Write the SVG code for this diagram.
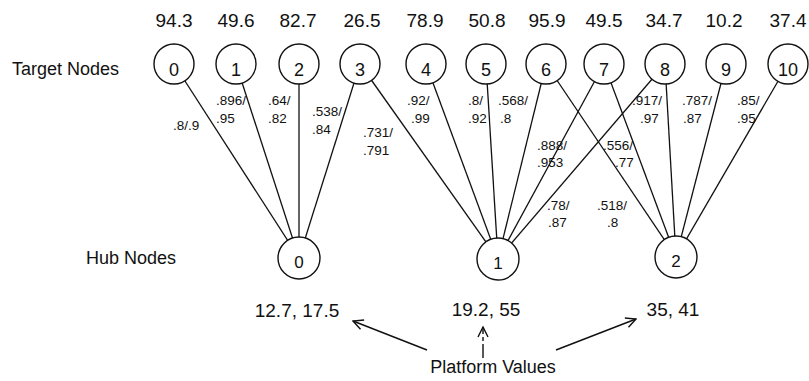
<svg xmlns="http://www.w3.org/2000/svg" width="809" height="381" viewBox="0 0 809 381">
  <defs>
    <style>
      text { font-family: "Liberation Sans", Arial, Helvetica, sans-serif; fill: #111; }
      .node circle { fill: #fff; stroke: #111; stroke-width: 1.4; }
      .node text { font-size: 18px; text-anchor: middle; }
      .hub text { font-size: 17px; }
      .edge line { stroke: #111; stroke-width: 1.3; }
      .weight { font-size: 13.5px; }
      .value { font-size: 19px; text-anchor: middle; }
      .caption { font-size: 18px; }
      .pointer { stroke: #111; stroke-width: 1.4; fill: none; }
    </style>
    <marker id="openHead" viewBox="0 0 12 12" refX="11" refY="6" markerWidth="12" markerHeight="12" markerUnits="userSpaceOnUse" orient="auto">
      <path d="M1,1 L11,6 L1,11" fill="none" stroke="#111" stroke-width="1.4"/>
    </marker>
  </defs>

  <rect width="809" height="381" fill="#fff"/>

  <!-- captions -->
  <text class="caption" x="12" y="75">Target Nodes</text>
  <text class="caption" x="176" y="264" text-anchor="end" font-size="17">Hub Nodes</text>

  <!-- values above target nodes -->
  <g id="target-values">
    <text class="value" x="174" y="27">94.3</text>
    <text class="value" x="236" y="27">49.6</text>
    <text class="value" x="298" y="27">82.7</text>
    <text class="value" x="362" y="27">26.5</text>
    <text class="value" x="425" y="27">78.9</text>
    <text class="value" x="487" y="27">50.8</text>
    <text class="value" x="547" y="27">95.9</text>
    <text class="value" x="604" y="27">49.5</text>
    <text class="value" x="664" y="27">34.7</text>
    <text class="value" x="724" y="27">10.2</text>
    <text class="value" x="788" y="27">37.4</text>
  </g>

  <!-- connectors: target node to hub node, drawn centre to centre under the circles -->
  <g id="connectors" class="edge">
    <line x1="174" y1="64" x2="299" y2="258"/>
    <line x1="236" y1="64" x2="299" y2="258"/>
    <line x1="299" y1="64" x2="299" y2="258"/>
    <line x1="360" y1="64" x2="299" y2="258"/>
    <line x1="360" y1="64" x2="498" y2="259"/>
    <line x1="426" y1="64" x2="498" y2="259"/>
    <line x1="486" y1="64" x2="498" y2="259"/>
    <line x1="546" y1="64" x2="498" y2="259"/>
    <line x1="604" y1="64" x2="498" y2="259"/>
    <line x1="665" y1="64" x2="498" y2="259"/>
    <line x1="546" y1="64" x2="676" y2="257"/>
    <line x1="604" y1="64" x2="676" y2="257"/>
    <line x1="665" y1="64" x2="676" y2="257"/>
    <line x1="726" y1="64" x2="676" y2="257"/>
    <line x1="788" y1="64" x2="676" y2="257"/>
  </g>

  <!-- connector weights -->
  <g id="weights" class="weight">
    <text x="173" y="130">.8/.9</text>
    <text x="216" y="105">.896/</text><text x="216" y="123">.95</text>
    <text x="268" y="105">.64/</text><text x="268" y="123">.82</text>
    <text x="312" y="116">.538/</text><text x="312" y="134">.84</text>
    <text x="363" y="137">.731/</text><text x="363" y="155">.791</text>
    <text x="407" y="105">.92/</text><text x="411" y="123">.99</text>
    <text x="468" y="105">.8/</text><text x="468" y="123">.92</text>
    <text x="498" y="105">.568/</text><text x="500" y="123">.8</text>
    <text x="537" y="150">.888/</text><text x="537" y="167">.953</text>
    <text x="603" y="150">.556/</text><text x="615" y="167">.77</text>
    <text x="547" y="210">.78/</text><text x="548" y="227">.87</text>
    <text x="597" y="210">.518/</text><text x="607" y="227">.8</text>
    <text x="632" y="105">.917/</text><text x="640" y="123">.97</text>
    <text x="682" y="105">.787/</text><text x="683" y="123">.87</text>
    <text x="737" y="105">.85/</text><text x="737" y="123">.95</text>
  </g>

  <!-- target nodes -->
  <g id="target-0" class="node"><circle cx="174" cy="64" r="20"/><text x="174" y="76">0</text></g>
  <g id="target-1" class="node"><circle cx="236" cy="64" r="20"/><text x="236" y="76">1</text></g>
  <g id="target-2" class="node"><circle cx="299" cy="64" r="20"/><text x="299" y="76">2</text></g>
  <g id="target-3" class="node"><circle cx="360" cy="64" r="20"/><text x="360" y="76">3</text></g>
  <g id="target-4" class="node"><circle cx="426" cy="64" r="20"/><text x="426" y="76">4</text></g>
  <g id="target-5" class="node"><circle cx="486" cy="64" r="20"/><text x="486" y="76">5</text></g>
  <g id="target-6" class="node"><circle cx="546" cy="64" r="20"/><text x="546" y="76">6</text></g>
  <g id="target-7" class="node"><circle cx="604" cy="64" r="20"/><text x="604" y="76">7</text></g>
  <g id="target-8" class="node"><circle cx="665" cy="64" r="20"/><text x="665" y="76">8</text></g>
  <g id="target-9" class="node"><circle cx="726" cy="64" r="20"/><text x="726" y="76">9</text></g>
  <g id="target-10" class="node"><circle cx="788" cy="64" r="20"/><text x="788" y="76">10</text></g>

  <!-- hub nodes -->
  <g id="hub-0" class="node hub"><circle cx="299" cy="258" r="21"/><text x="299" y="268">0</text></g>
  <g id="hub-1" class="node hub"><circle cx="498" cy="259" r="21"/><text x="498" y="269">1</text></g>
  <g id="hub-2" class="node hub"><circle cx="676" cy="257" r="21"/><text x="676" y="267">2</text></g>

  <!-- platform values under hubs -->
  <g id="platform-values">
    <text class="value" x="297" y="317">12.7, 17.5</text>
    <text class="value" x="486" y="316">19.2, 55</text>
    <text class="value" x="673" y="316">35, 41</text>
  </g>

  <!-- platform values caption and pointers -->
  <g id="platform-caption">
    <text class="caption" x="493" y="373" text-anchor="middle">Platform Values</text>
    <line class="pointer" x1="427" y1="350" x2="353" y2="321" marker-end="url(#openHead)"/>
    <line class="pointer" x1="556" y1="350" x2="636" y2="319" marker-end="url(#openHead)"/>
    <line class="pointer" x1="483" y1="358" x2="483" y2="327" stroke-dasharray="14,3,4,3" marker-end="url(#openHead)"/>
  </g>
</svg>
